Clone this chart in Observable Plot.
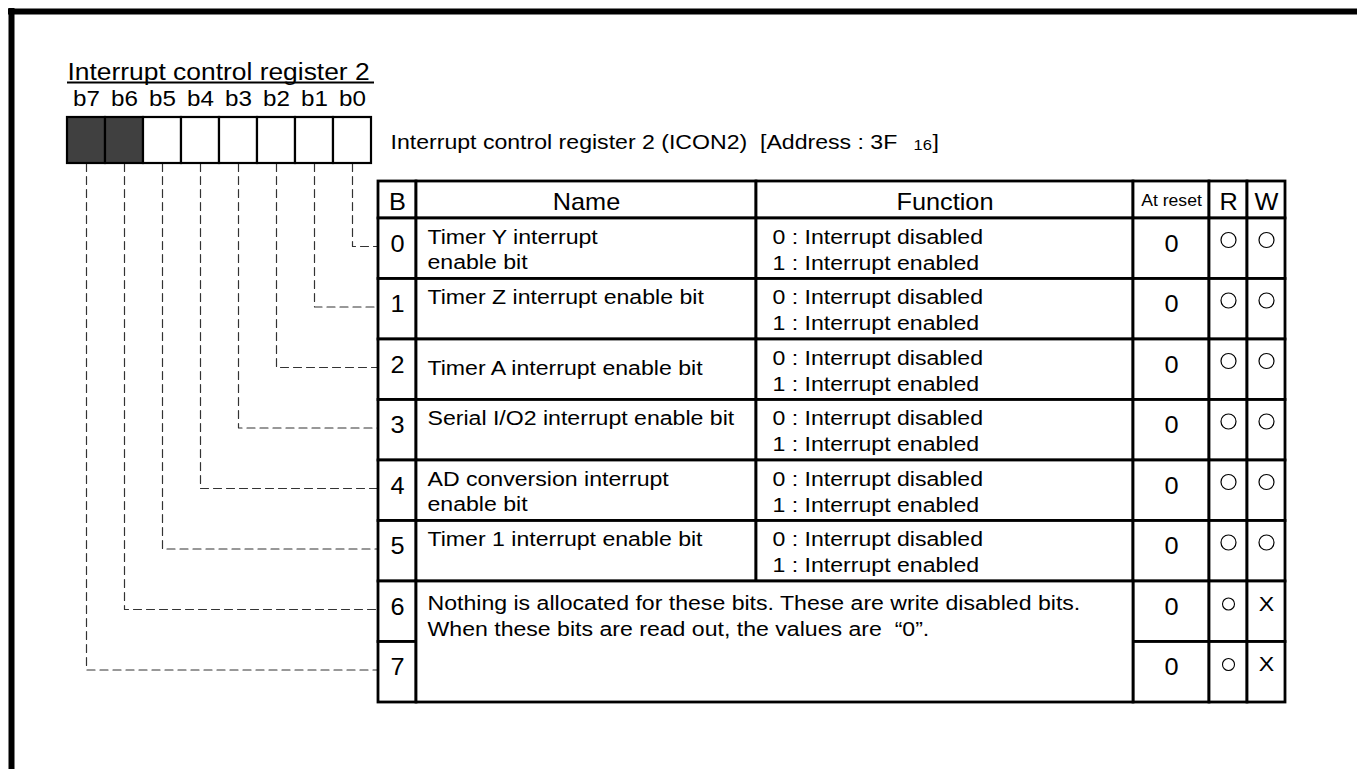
<!DOCTYPE html>
<html>
<head>
<meta charset="utf-8">
<script src="https://cdn.jsdelivr.net/npm/d3@7"></script>
<script src="https://cdn.jsdelivr.net/npm/@observablehq/plot@0.6"></script>
<style>
  html, body { margin: 0; padding: 0; background: #fff; }
  #chart svg { display: block; }
</style>
</head>
<body>
<div id="chart"></div>
<script>
// ---------------- data ----------------
const registerTitle = "Interrupt control register 2";
const registerCaption = "Interrupt control register 2 (ICON2)  [Address : 3F";
const addressSubscript = "16";
const addressClose = "]";
const bitLabels = ["b7", "b6", "b5", "b4", "b3", "b2", "b1", "b0"];
const unusedBits = ["b7", "b6"];
const headers = ["B", "Name", "Function", "At reset", "R", "W"];
const bitNumbers = ["0", "1", "2", "3", "4", "5", "6", "7"];
const bitNames = [
  ["Timer Y interrupt", "enable bit"],
  ["Timer Z interrupt enable bit"],
  ["Timer A interrupt enable bit"],
  ["Serial I/O2 interrupt enable bit"],
  ["AD conversion interrupt", "enable bit"],
  ["Timer 1 interrupt enable bit"]
];
const bitFunctions = [
  ["0 : Interrupt disabled", "1 : Interrupt enabled"],
  ["0 : Interrupt disabled", "1 : Interrupt enabled"],
  ["0 : Interrupt disabled", "1 : Interrupt enabled"],
  ["0 : Interrupt disabled", "1 : Interrupt enabled"],
  ["0 : Interrupt disabled", "1 : Interrupt enabled"],
  ["0 : Interrupt disabled", "1 : Interrupt enabled"]
];
const unusedNote = [
  "Nothing is allocated for these bits. These are write disabled bits.",
  "When these bits are read out, the values are  \u201C0\u201D."
];
const resetValues = ["0", "0", "0", "0", "0", "0", "0", "0"];
const readAccess = ["○", "○", "○", "○", "○", "○", "○", "○"];
const writeAccess = ["○", "○", "○", "○", "○", "○", "X", "X"];

// ---------------- layout ----------------
const W = 1357, H = 769;
const FONT = "'Liberation Sans', Arial, Helvetica, sans-serif";
const STRETCH = 1.1;
const L = {
  frame: 11, frameWidth: 6,
  titleX: 67, titleY: 79, underlineY: 82, underlineX2: 374,
  bitLabelY: 105,
  regX0: 67, regW: 38, regY0: 117, regY1: 163,
  captionX: 390, captionY: 148, subX: 913, closeX: 932,
  cols: [378, 416, 756, 1133, 1209, 1247, 1285],
  top: 181, headBottom: 218, rowH: 60.5,
  connectorDy: 28
};
const rowTop = r => L.headBottom + r * L.rowH;
const colMid = c => (L.cols[c] + L.cols[c + 1]) / 2;
const nameDy = {2: 10};

// table cells
const cells = [];
for (let c = 0; c < 6; c++) cells.push({x1: L.cols[c], x2: L.cols[c + 1], y1: L.top, y2: L.headBottom});
for (let r = 0; r < 8; r++) {
  const cs = r < 6 ? [0, 1, 2, 3, 4, 5] : [0, 3, 4, 5];
  for (const c of cs) cells.push({x1: L.cols[c], x2: L.cols[c + 1], y1: rowTop(r), y2: rowTop(r + 1)});
}
cells.push({x1: L.cols[1], x2: L.cols[3], y1: rowTop(6), y2: rowTop(8)});

// register boxes
const regCells = bitLabels.map((b, i) => ({
  bit: b,
  x1: L.regX0 + i * L.regW, x2: L.regX0 + (i + 1) * L.regW,
  fill: unusedBits.includes(b) ? "#404040" : "white"
}));

// dashed connectors
const connectors = [];
bitNumbers.forEach((n, k) => {
  const i = bitLabels.indexOf("b" + n);
  const cx = L.regX0 + i * L.regW + L.regW / 2;
  const yk = rowTop(k) + L.connectorDy;
  connectors.push({k, x: cx, y: L.regY1}, {k, x: cx, y: yk}, {k, x: L.cols[0], y: yk});
});

// text items
const startTexts = [];
const midTexts = [];
startTexts.push({t: registerTitle, x: L.titleX, y: L.titleY, s: 24});
startTexts.push({t: registerCaption, x: L.captionX, y: L.captionY, s: 21});
startTexts.push({t: addressSubscript, x: L.subX, y: L.captionY + 1, s: 15});
startTexts.push({t: addressClose, x: L.closeX, y: L.captionY, s: 21});
bitLabels.forEach((b, i) => midTexts.push({t: b, x: L.regX0 + i * L.regW + L.regW / 2, y: L.bitLabelY, s: 22}));
headers.forEach((h, c) => midTexts.push({t: h, x: colMid(c), y: h === "At reset" ? 205 : 209, s: h === "At reset" ? 16 : 23}));
bitNumbers.forEach((n, r) => midTexts.push({t: n, x: colMid(0), y: rowTop(r) + 33, s: 23}));
resetValues.forEach((v, r) => midTexts.push({t: v, x: colMid(3), y: rowTop(r) + 33, s: 23}));
bitNames.forEach((lines, r) => lines.forEach((t, j) =>
  startTexts.push({t, x: L.cols[1] + 11, y: rowTop(r) + 25 + j * 25 + (nameDy[r] || 0), s: 21})));
bitFunctions.forEach((lines, r) => lines.forEach((t, j) =>
  startTexts.push({t, x: L.cols[2] + 16, y: rowTop(r) + 25 + j * 26, s: 21})));
unusedNote.forEach((t, j) => startTexts.push({t, x: L.cols[1] + 11, y: rowTop(6) + 28 + j * 26, s: 21}));
writeAccess.forEach((w, r) => { if (w === "X") midTexts.push({t: w, x: colMid(5), y: rowTop(r) + 29, s: 21}); });

const circlesBig = [], circlesSmall = [];
readAccess.forEach((m, r) => { if (m === "○") (r < 6 ? circlesBig : circlesSmall).push({x: colMid(4), y: rowTop(r) + (r < 6 ? 21.5 : 22.5)}); });
writeAccess.forEach((m, r) => { if (m === "○") (r < 6 ? circlesBig : circlesSmall).push({x: colMid(5), y: rowTop(r) + 21.5}); });

const chart = Plot.plot({
  width: W, height: H, margin: 0,
  x: {domain: [0, W], range: [0, W], axis: null},
  y: {domain: [0, H], range: [0, H], axis: null},
  style: {background: "white", fontFamily: FONT, color: "black"},
  marks: [
    Plot.ruleY([L.frame], {x1: L.frame, x2: W, stroke: "black", strokeWidth: L.frameWidth, strokeLinecap: "square"}),
    Plot.ruleX([L.frame], {y1: L.frame, y2: H, stroke: "black", strokeWidth: L.frameWidth, strokeLinecap: "square"}),
    Plot.ruleY([L.underlineY], {x1: L.titleX, x2: L.underlineX2, stroke: "black", strokeWidth: 2}),
    Plot.line(connectors, {x: "x", y: "y", z: "k", stroke: "#333", strokeWidth: 1.2, strokeDasharray: "8,5"}),
    Plot.rect(regCells, {x1: "x1", x2: "x2", y1: L.regY0, y2: L.regY1, fill: "fill", stroke: "black", strokeWidth: 2.2}),
    Plot.rect(cells, {x1: "x1", x2: "x2", y1: "y1", y2: "y2", fill: "white", stroke: "black", strokeWidth: 2.8}),
    Plot.dot(circlesBig, {x: "x", y: "y", r: 7.5, stroke: "black", strokeWidth: 1.2, fill: "none"}),
    Plot.dot(circlesSmall, {x: "x", y: "y", r: 6, stroke: "black", strokeWidth: 1.1, fill: "none"}),
    Plot.text(startTexts, {x: "x", y: "y", text: "t", fontSize: d => d.s, textAnchor: "start", lineAnchor: "bottom", fill: "black", fontFamily: FONT}),
    Plot.text(midTexts, {x: "x", y: "y", text: "t", fontSize: d => d.s, textAnchor: "middle", lineAnchor: "bottom", fill: "black", fontFamily: FONT})
  ]
});
chart.querySelectorAll('g[aria-label="text"] text').forEach(t => {
  const tr = t.getAttribute("transform");
  if (tr) t.setAttribute("transform", tr + ` scale(${STRETCH},1)`);
});
document.getElementById("chart").appendChild(chart);
</script>
</body>
</html>
